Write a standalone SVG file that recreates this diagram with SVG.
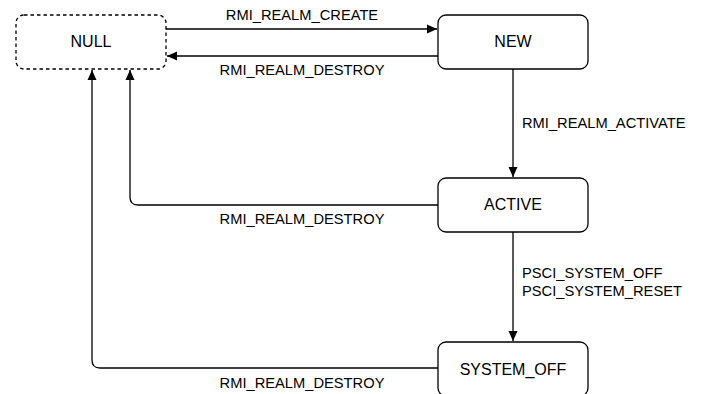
<svg xmlns="http://www.w3.org/2000/svg" width="702" height="394" viewBox="0 0 702 394">
<defs>
<marker id="arr" viewBox="0 0 10 10" refX="10" refY="5" markerWidth="10" markerHeight="10" markerUnits="userSpaceOnUse" orient="auto">
<path d="M0,0.5 L10,5 L0,9.5 Z" fill="#000"/>
</marker>
<style>
.box{fill:#fff;stroke:#000;stroke-width:1.3}
.dash{stroke-dasharray:3.5 3}
.node{font-family:"Liberation Sans",Arial,sans-serif;font-size:16px;fill:#000;text-anchor:middle}
.lbl{font-family:"Liberation Sans",Arial,sans-serif;font-size:14.7px;fill:#000}
.c{text-anchor:middle}
.edge{fill:none;stroke:#000;stroke-width:1.3;marker-end:url(#arr)}
</style>
</defs>
<rect width="702" height="394" fill="#fff"/>
<g id="connectors">
<path class="edge" d="M166,29 H437"/>
<path class="edge" d="M438,56 H167"/>
<path class="edge" d="M513,69 V177"/>
<path class="edge" d="M513,232 V341"/>
<path class="edge" d="M438,205 H138 Q130,205 130,197 V70"/>
<path class="edge" d="M438,368 H100 Q92,368 92,360 V70"/>
<text class="lbl c" x="302" y="20">RMI_REALM_CREATE</text>
<text class="lbl c" x="302" y="75">RMI_REALM_DESTROY</text>
<text class="lbl" x="522" y="128">RMI_REALM_ACTIVATE</text>
<text class="lbl c" x="302" y="224">RMI_REALM_DESTROY</text>
<text class="lbl" x="522" y="278">PSCI_SYSTEM_OFF</text>
<text class="lbl" x="522" y="296">PSCI_SYSTEM_RESET</text>
<text class="lbl c" x="302" y="388">RMI_REALM_DESTROY</text>
</g>
<g id="null">
<rect class="box dash" x="16" y="15" width="150" height="54" rx="8"/>
<text class="node" x="91" y="47">NULL</text>
</g>
<g id="new">
<rect class="box" x="438" y="15" width="150" height="54" rx="8"/>
<text class="node" x="513" y="47">NEW</text>
</g>
<g id="active">
<rect class="box" x="438" y="178" width="150" height="54" rx="8"/>
<text class="node" x="513" y="210">ACTIVE</text>
</g>
<g id="system_off">
<rect class="box" x="438" y="342" width="150" height="54" rx="8"/>
<text class="node" x="513" y="375">SYSTEM_OFF</text>
</g>
</svg>
